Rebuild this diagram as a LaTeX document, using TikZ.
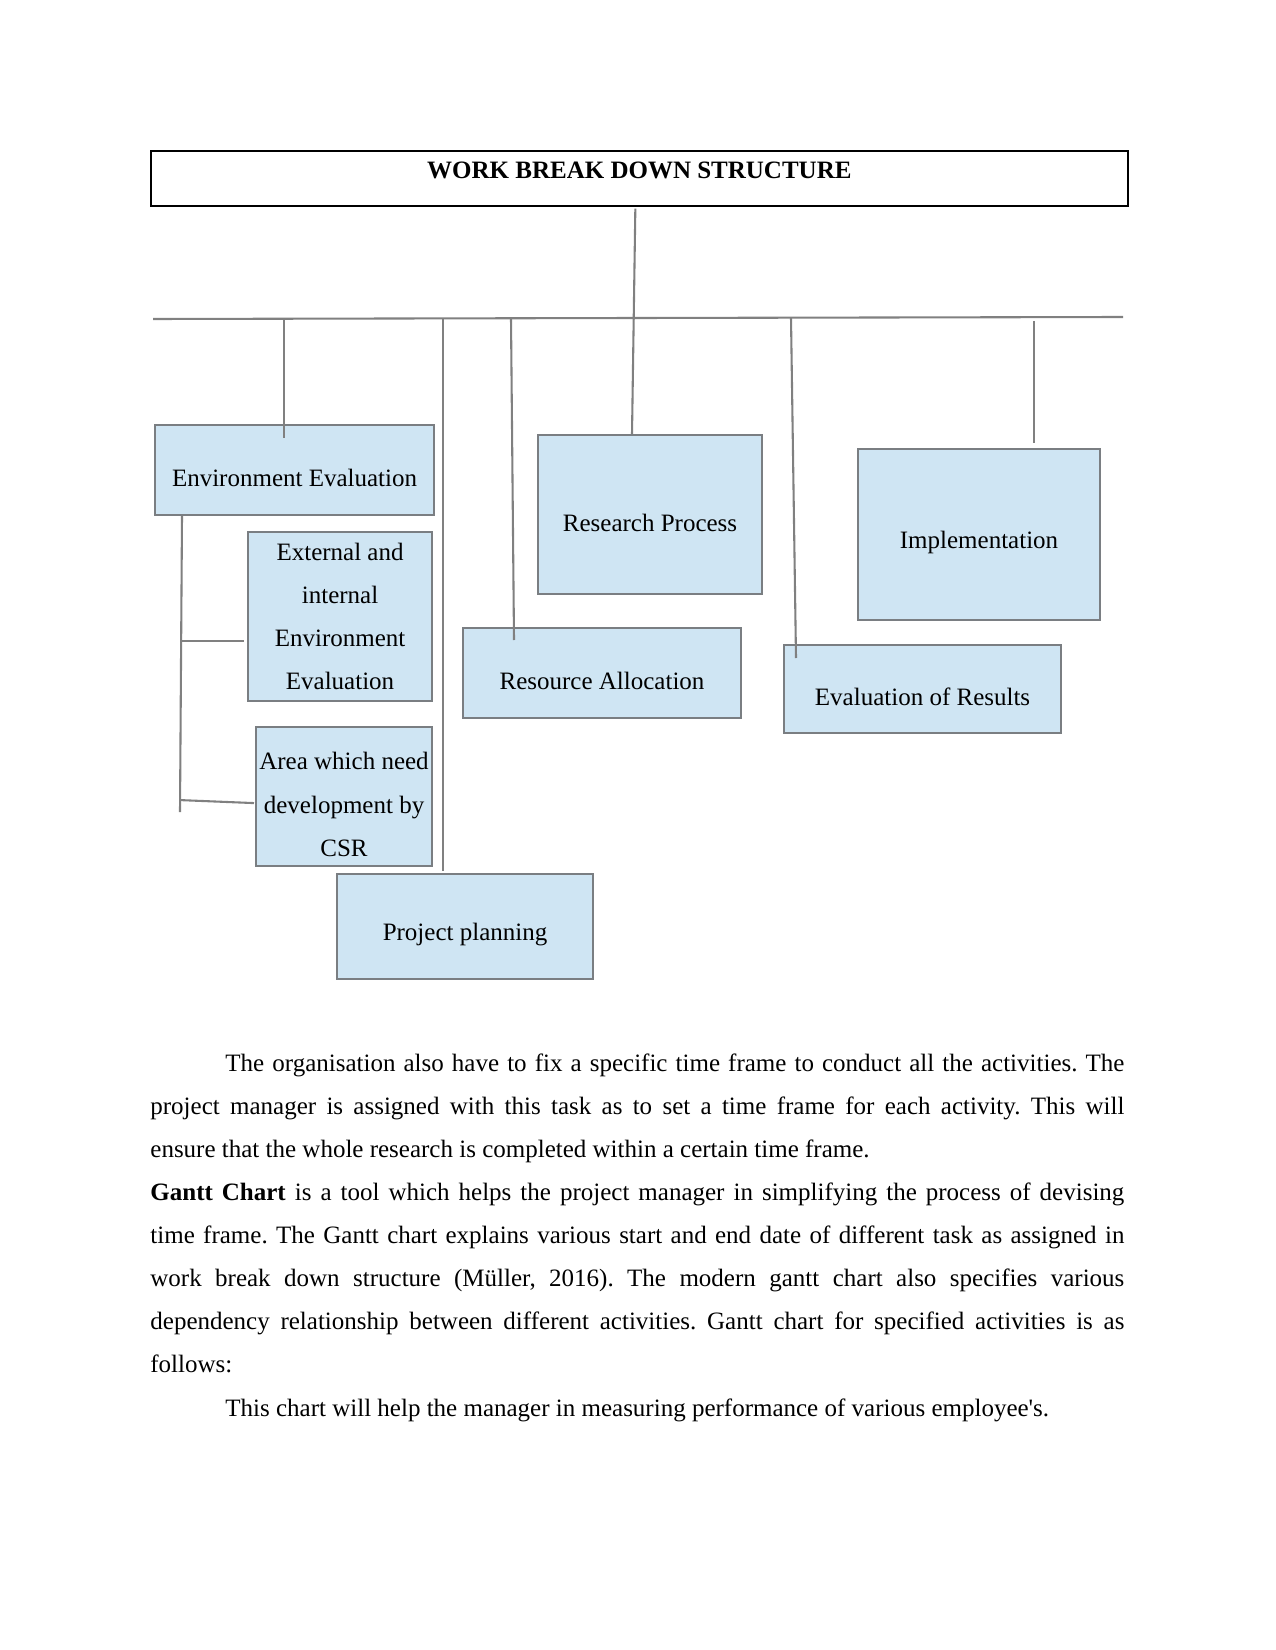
\documentclass[tikz,border=0pt]{standalone}
\usepackage{fontspec}
\setmainfont{Liberation Serif}
\usepackage{tikz}
\usetikzlibrary{positioning, calc}
\definecolor{boxblue}{RGB}{207,229,243}
\definecolor{boxline}{RGB}{122,126,130}
\definecolor{linkgray}{RGB}{128,128,128}
\newcommand{\lowstrut}{\rule{0pt}{16pt}}
\tikzset{
  wbsbox/.style={rectangle, draw=boxline, fill=boxblue, line width=1pt, inner sep=0pt, align=center, anchor=north west, font=\fontsize{12}{20.7}\selectfont},
  lowtext/.style={execute at begin node={\lowstrut}},
  boxsize/.style 2 args={minimum width=#1*0.48pt, minimum height=#2*0.48pt},
  titlebox/.style={rectangle, draw=black, line width=0.8pt, inner sep=0pt, anchor=north west, text depth=7.7pt, font=\bfseries\fontsize{12}{14}\selectfont},
  link/.style={draw=linkgray, line width=1pt}
}

\begin{document}
\begin{tikzpicture}[x=0.48pt, y=-0.48pt]
        \useasboundingbox (0,0) rectangle (1275,1650);

        \node (wbs) [titlebox, boxsize={977}{55}] at (150,150) {WORK BREAK DOWN STRUCTURE};

        \node (env) [wbsbox, lowtext, boxsize={279}{90}] at (154,424) {Environment Evaluation};
        \node (extenv) [wbsbox, boxsize={184}{169}] at (247,531) {External and\\internal\\Environment\\Evaluation};
        \node (csr) [wbsbox, boxsize={176}{139}] at (255,726) {\lowstrut Area which need\\development by\\CSR};
        \node (plan) [wbsbox, lowtext, boxsize={256}{105}] at (336,873) {Project planning};
        \node (research) [wbsbox, lowtext, boxsize={224}{159}] at (537,434) {Research Process};
        \node (resource) [wbsbox, lowtext, boxsize={278}{90}] at (462,627) {Resource Allocation};
        \node (impl) [wbsbox, lowtext, boxsize={242}{171}] at (857,448) {Implementation};
        \node (evalres) [wbsbox, lowtext, boxsize={277}{88}] at (783,644) {Evaluation of Results};

        % bus line and drops
        \coordinate (busL) at (153,319);
        \coordinate (busR) at (1123,317);
        \coordinate (d1) at (284,319);
        \coordinate (d2) at (443,319);
        \coordinate (d3) at (511,319);
        \coordinate (d4) at (791,318);
        \coordinate (d5) at (1034,321);
        \draw [link] (busL) -- (busR);
        \draw [link] ($(wbs.south)+(-4,2)$) -- ($(research.north west)+(95,0)$);
        \draw [link] (d1) -- ($(env.north west)+(130,14)$);
        \draw [link] (d2) -- ($(plan.north west)+(107,-2)$);
        \draw [link] (d3) -- ($(resource.north west)+(52,13)$);
        \draw [link] (d4) -- ($(evalres.north west)+(13,14)$);
        \draw [link] (d5) -- ($(impl.north west)+(177,-5)$);

        % sub tasks of environment evaluation
        \coordinate (spine) at ($(env.south west)+(28,0)$);
        \draw [link] (spine) -- ++(-2,296);
        \draw [link] ($(extenv.south west)+(-65,-61)$) -- ($(extenv.south west)+(-3,-61)$);
        \draw [link] ($(csr.south west)+(-75,-67)$) -- ($(csr.south west)+(-1,-64)$);

        \node (body) [anchor=base west, inner sep=0pt, text width=467.5pt, align=justify, font=\fontsize{12}{20.7}\selectfont] at (150,1071) {\frenchspacing\tolerance=9999 \hyphenpenalty=10000
        \hspace*{36pt}The organisation also have to fix a specific time frame to conduct all the activities. The\linebreak project manager is assigned with this task as to set a time frame for each activity. This will\linebreak ensure that the whole research is completed within a certain time frame.\par
        \textbf{Gantt Chart} is a tool which helps the project manager in simplifying the process of devising\linebreak time frame. The Gantt chart explains various start and end date of different task as assigned in\linebreak work break down structure (Müller, 2016). The modern gantt chart also specifies various\linebreak dependency relationship between different activities. Gantt chart for specified activities is as\linebreak follows:\par
        \hspace*{36pt}This chart will help the manager in measuring performance of various employee\textquotesingle s.};
    \end{tikzpicture}
\end{document}
